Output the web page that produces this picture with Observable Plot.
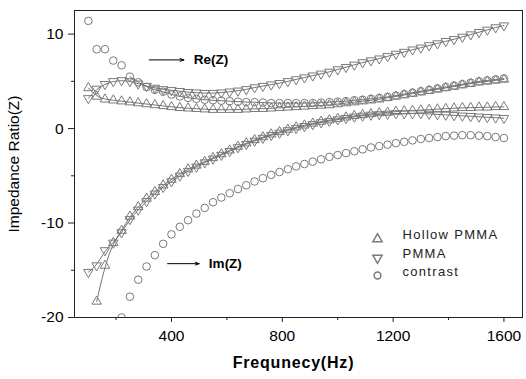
<!DOCTYPE html>
<html>
<head>
<meta charset="utf-8">
<script src="https://cdn.jsdelivr.net/npm/d3@7"></script>
<script src="https://cdn.jsdelivr.net/npm/@observablehq/plot@0.6"></script>
<style>
  html, body { margin: 0; padding: 0; background: #fff; }
  #chart { width: 526px; height: 379px; }
</style>
</head>
<body>
<div id="chart"></div>
<script>
const freq = [100,130,160,190,220,250,280,310,340,370,400,430,460,490,520,550,580,610,640,670,700,730,760,790,820,850,880,910,940,970,1000,1030,1060,1090,1120,1150,1180,1210,1240,1270,1300,1330,1360,1390,1420,1450,1480,1510,1540,1570,1600];

const hollowRe = [4.3,3.4,3.1,3.0,2.9,2.8,2.7,2.6,2.5,2.4, 2.3,2.2,2.15,2.1,2.05,2.0,2.0,2.0,2.0,2.05, 2.1,2.1,2.15,2.2,2.25,2.3,2.35,2.4,2.45,2.5, 2.6,2.7,2.8,2.9,3.0,3.1,3.25,3.4,3.55,3.7, 3.85,4.0,4.15,4.3,4.45,4.6,4.75,4.9,5.0,5.1,5.2];
const pmmaRe = [3.2,4.2,4.7,5.0,5.1,5.0,4.75,4.5,4.3,4.15, 4.05,3.95,3.85,3.8,3.75,3.75,3.8,3.9,4.0,4.15, 4.35,4.5,4.65,4.8,5.0,5.2,5.4,5.6,5.8,6.0, 6.25,6.5,6.75,7.0,7.2,7.4,7.65,7.9,8.1,8.35, 8.55,8.8,9.0,9.25,9.45,9.7,9.95,10.2,10.45,10.7,10.9];
const contrastRe = [11.4,8.4,8.4,7.2,6.7,5.5,4.9,4.4,4.1,3.9, 3.6,3.4,3.25,3.15,3.05,3.0,2.95,2.9,2.85,2.8, 2.8,2.75,2.7,2.7,2.7,2.7,2.7,2.7,2.75,2.8, 2.85,2.9,3.0,3.05,3.15,3.25,3.35,3.5,3.65,3.8, 3.95,4.1,4.25,4.4,4.55,4.7,4.85,5.0,5.1,5.2,5.3];
const hollowIm = [null,-18.3,-14.5,-12.1,-10.8,-9.3,-8.3,-7.4,-6.7,-6.0, -5.4,-4.8,-4.3,-3.9,-3.5,-3.1,-2.7,-2.3,-1.9,-1.55, -1.2,-0.9,-0.6,-0.35,-0.1,0.15,0.35,0.55,0.75,0.9, 1.05,1.2,1.35,1.45,1.55,1.65,1.7,1.8,1.85,1.9, 1.95,2.0,2.05,2.1,2.15,2.2,2.2,2.25,2.25,2.3,2.3];
const pmmaIm = [-15.2,-14.5,-12.9,-12.1,-11.0,-9.6,-8.6,-7.7,-6.9,-6.2, -5.6,-5.0,-4.5,-4.05,-3.6,-3.2,-2.8,-2.4,-2.0,-1.65, -1.3,-1.0,-0.7,-0.45,-0.2,0.05,0.25,0.45,0.65,0.8, 0.95,1.1,1.25,1.35,1.45,1.5,1.55,1.6,1.6,1.6, 1.6,1.55,1.5,1.45,1.4,1.35,1.3,1.25,1.2,1.15,1.1];
const contrastIm = [null,null,null,null,-20.0,-17.8,-16.0,-14.6,-13.4,-12.2, -11.2,-10.4,-9.7,-9.0,-8.4,-7.8,-7.3,-6.85,-6.4,-6.0, -5.6,-5.25,-4.9,-4.6,-4.3,-4.0,-3.75,-3.5,-3.25,-3.0, -2.8,-2.6,-2.4,-2.2,-2.0,-1.85,-1.7,-1.55,-1.4,-1.25, -1.1,-1.0,-0.9,-0.8,-0.75,-0.7,-0.7,-0.75,-0.8,-0.9,-1.0];

const legendLabels = ["Hollow PMMA", "PMMA", "contrast"];
const xTicks = [400, 800, 1200, 1600];
const xMinorTicks = [200, 600, 1000, 1400];
const yTicks = [-20, -10, 0, 10];
const yMinorTicks = [-15, -5, 5];
const xTitle = "Frequnecy(Hz)";
const yTitle = "Impedance Ratio(Z)";
// annotations: label, arrow start freq, arrow end freq, text freq, value
const annLabels = ["Re(Z)", "Im(Z)"];
const annFrom = [320, 386];
const annTo = [445, 500];
const annTextX = [480, 535];
const annY = [7.27, -14.3];

function rows(values, series) {
  return freq.map((f, i) => ({f, v: values[i], series})).filter(d => d.v != null);
}
const hollow = [...rows(hollowRe, "hRe"), ...rows(hollowIm, "hIm")];
const pmma = [...rows(pmmaRe, "pRe"), ...rows(pmmaIm, "pIm")];
const contrast = [...rows(contrastRe, "cRe"), ...rows(contrastIm, "cIm")];
const lineData = [
  ...rows(hollowRe, "hRe"), ...rows(hollowIm, "hIm"),
  ...rows(pmmaRe, "pRe"), ...rows(pmmaIm, "pIm"),
  ...rows(contrastRe, "cRe").filter(d => d.f >= 250)
];
const ann = annLabels.map((t, i) => ({t, x1: annFrom[i], x2: annTo[i], xt: annTextX[i], y: annY[i]}));

const markStroke = "#7a7a7a";
const font = "Liberation Sans, Arial, Helvetica, sans-serif";
const fmt = d => String(d);

const chart = Plot.plot({
  width: 526,
  height: 379,
  marginLeft: 74,
  marginRight: 4,
  marginTop: 10,
  marginBottom: 62,
  style: {fontFamily: font, background: "#fff", color: "#000"},
  x: {domain: [50, 1667]},
  y: {domain: [-20, 12.5]},
  marks: [
    Plot.line(lineData, {x: "f", y: "v", z: "series", curve: "basis", stroke: "#444", strokeWidth: 0.75}),
    Plot.dot(hollow, {x: "f", y: "v", symbol: "triangle", r: 3.5, stroke: markStroke, strokeWidth: 1, fill: "none", clip: true}),
    Plot.dot(pmma, {x: "f", y: "v", symbol: "triangle", rotate: 180, r: 3.5, stroke: markStroke, strokeWidth: 1, fill: "none", clip: true}),
    Plot.dot(contrast, {x: "f", y: "v", symbol: "circle", r: 3.8, stroke: markStroke, strokeWidth: 1, fill: "none", clip: true}),
    Plot.frame({stroke: "#222", strokeWidth: 1}),
    Plot.axisY({ticks: yTicks, tickFormat: fmt, tickSize: 6, tickPadding: 5, fontSize: 15.5, label: null, stroke: "#222"}),
    Plot.axisY({ticks: yMinorTicks, tickSize: 3, text: null, label: null, stroke: "#222"}),
    Plot.axisX({ticks: xTicks, tickFormat: fmt, tickSize: 5, tickPadding: 7, fontSize: 15.5, label: null, stroke: "#222"}),
    Plot.axisX({ticks: xMinorTicks, tickSize: 3, text: null, label: null, stroke: "#222"}),
    Plot.text([xTitle], {frameAnchor: "bottom", textAnchor: "middle", dx: -5, dy: 50, fontSize: 16, fontWeight: "bold", fill: "#000"}),
    Plot.text([yTitle], {frameAnchor: "left", textAnchor: "middle", dx: -60, rotate: -90, fontSize: 15.5, fill: "#000"}),
    Plot.arrow(ann, {x1: "x1", x2: "x2", y1: "y", y2: "y", stroke: "#000", strokeWidth: 1, headLength: 6, headAngle: 40}),
    Plot.text(ann, {x: "xt", y: "y", text: "t", textAnchor: "start", fontWeight: "bold", fontSize: 13.5, fill: "#000"}),
    // legend
    Plot.dot([legendLabels[0]], {frameAnchor: "bottom-right", dx: -145, dy: -78.5, symbol: "triangle", r: 3.4, stroke: markStroke, fill: "none"}),
    Plot.dot([legendLabels[1]], {frameAnchor: "bottom-right", dx: -145, dy: -59.5, symbol: "triangle", rotate: 180, r: 3.4, stroke: markStroke, fill: "none"}),
    Plot.dot([legendLabels[2]], {frameAnchor: "bottom-right", dx: -145, dy: -42, symbol: "circle", r: 3.4, stroke: markStroke, fill: "none"}),
    Plot.text([legendLabels[0]], {frameAnchor: "bottom-right", dx: -120, dy: -78.5, textAnchor: "start", fontSize: 13, fill: "#222"}),
    Plot.text([legendLabels[1]], {frameAnchor: "bottom-right", dx: -120, dy: -59.5, textAnchor: "start", fontSize: 13, fill: "#222"}),
    Plot.text([legendLabels[2]], {frameAnchor: "bottom-right", dx: -120, dy: -42, textAnchor: "start", fontSize: 13, fill: "#222"})
  ]
});
d3.select(chart).selectAll("text").filter(function() {
  return legendLabels.includes(this.textContent);
}).style("letter-spacing", "1.3px");
d3.select(chart).selectAll("text").filter(function() {
  return this.textContent === xTitle;
}).style("letter-spacing", "0.8px");
document.getElementById("chart").appendChild(chart);
</script>
</body>
</html>
